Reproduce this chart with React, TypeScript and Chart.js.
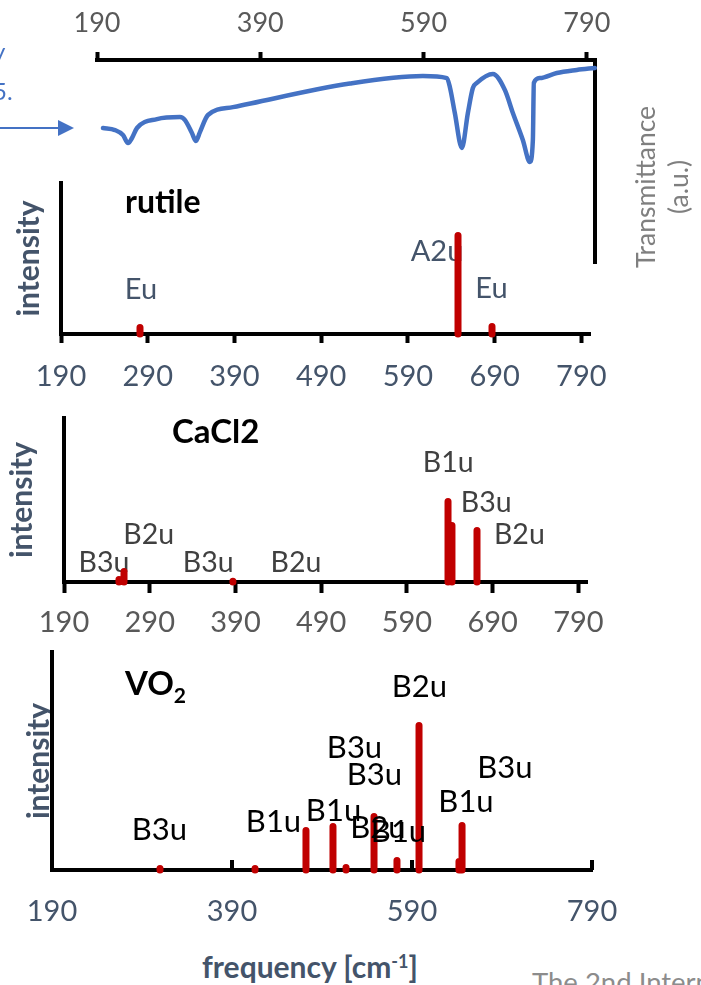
import React, { useEffect, useRef } from "react";
import { Chart, registerables } from "chart.js";

Chart.register(...registerables);

const FONT = "Lato, 'Open Sans', sans-serif";
const RED = "#C00000";
const BLUE = "#4472C4";
const SLATE = "#44546A";

// ---- axis ticks ----
const topTicks = [190, 390, 590, 790];
const panelTicks = [190, 290, 390, 490, 590, 690, 790];
const vo2Ticks = [190, 390, 590, 790];
const vo2TickMarks = [390, 590, 790];

// ---- IR transmittance trace (frequency in cm-1, transmittance in a.u.) ----
const irFreq = [
  197.3, 212.0, 221.8, 228.0, 232.9, 239.0, 263.5, 291.6, 297.8, 306.3, 311.2, 316.1,
  325.9, 356.5, 499.8, 589.2, 618.6, 622.2, 628.3, 636.9, 644.3, 650.4, 655.3, 674.9,
  689.6, 699.4, 711.6, 720.2, 723.9, 725.1, 732.4, 753.2, 777.7, 799.8,
];
const irTrans = [
  66.5, 65.5, 63.1, 59.1, 61.6, 66.5, 70.9, 71.9, 70.4, 64.0, 60.1, 64.5,
  72.9, 76.8, 88.4, 92.1, 91.1, 86.7, 73.9, 56.7, 73.9, 86.2, 88.7, 93.1,
  85.2, 73.9, 60.6, 49.8, 60.6, 88.7, 91.1, 93.6, 95.1, 96.1,
];

// ---- rutile ----
const rutileFreq = [281.1, 647.8, 687.0];
const rutileInt = [4.3, 65.2, 5.0];
const rutileModes = ["Eu", "A2u", "Eu"];
const rutileLabelFreq = [282.2, 623.6, 686.4];
const rutileLabelLevel = [29.1, 54.6, 29.8];

// ---- CaCl2-type ----
const cacl2Freq = [254.1, 260.0, 387.0, 637.9, 642.5, 671.7];
const cacl2Int = [1.5, 6.4, 0.5, 49.1, 34.5, 31.4];
const cacl2Modes = ["B3u", "B2u", "B3u", "B2u", "B1u", "B3u", "B2u"];
const cacl2LabelFreq = [236.7, 288.7, 358.3, 460.5, 638.1, 682.5, 721.1];
const cacl2LabelLevel = [11.6, 28.7, 11.6, 11.6, 72.6, 48.2, 28.7];

// ---- VO2 ----
const vo2Freq = [310.0, 415.6, 472.2, 502.2, 516.7, 547.8, 573.3, 597.8, 642.2, 645.6];
const vo2Int = [0.7, 0.7, 18.1, 20.0, 1.1, 24.5, 4.4, 66.3, 3.9, 20.4];
const vo2Modes = ["B3u", "B1u", "B1u", "B3u", "B3u", "B2u", "B1u", "B2u", "B1u", "B3u"];
const vo2LabelFreq = [309.4, 436.1, 502.8, 526.1, 548.3, 552.2, 575.0, 598.3, 650.0, 693.3];
const vo2LabelLevel = [18.3, 22.0, 27.1, 56.0, 43.6, 19.3, 17.4, 83.9, 31.4, 46.8];

// vertical sticks: each mode is a segment from 0 up to its intensity
function stickData(freqs: number[], ints: number[]) {
  const pts: { x: number; y: number | null }[] = [];
  freqs.forEach((f, i) => {
    pts.push({ x: f, y: 0 }, { x: f, y: ints[i] }, { x: f, y: null });
  });
  return pts;
}

function modeLabelPlugin(
  texts: string[],
  freqs: number[],
  levels: number[],
  size: number,
  color: string,
  over: boolean
) {
  const draw = (chart: any) => {
    const { ctx } = chart;
    const xs = chart.scales.x;
    const ys = chart.scales.y;
    ctx.save();
    ctx.font = `${size}px ${FONT}`;
    ctx.fillStyle = color;
    ctx.textAlign = "center";
    ctx.textBaseline = "middle";
    texts.forEach((t, i) => {
      ctx.fillText(t, xs.getPixelForValue(freqs[i]), ys.getPixelForValue(levels[i]));
    });
    ctx.restore();
  };
  return over
    ? { id: "modeLabels", afterDatasetsDraw: draw }
    : { id: "modeLabels", beforeDatasetsDraw: draw };
}

// short tick marks pointing up into the plot area
function innerTickPlugin(values: number[]) {
  return {
    id: "innerTicks",
    beforeDatasetsDraw(chart: any) {
      const { ctx, chartArea } = chart;
      const xs = chart.scales.x;
      ctx.save();
      ctx.strokeStyle = "#000";
      ctx.lineWidth = 4;
      values.forEach((v) => {
        const px = xs.getPixelForValue(v);
        ctx.beginPath();
        ctx.moveTo(px, chartArea.bottom);
        ctx.lineTo(px, chartArea.bottom - 10);
        ctx.stroke();
      });
      ctx.restore();
    },
  };
}

type PanelOpts = {
  freqs: number[];
  ints: number[];
  modes: string[];
  labelFreq: number[];
  labelLevel: number[];
  labelSize: number;
  labelColor: string;
  labelsOver: boolean;
  xMax: number;
  ticks: number[];
  tickColor: string;
  tickPadding: number;
  tickLength: number;
  xAxisHeight: number;
  yAxisWidth: number;
  padTop: number;
  padRight: number;
  titlePad: number;
  innerTicks?: number[];
};

function panelConfig(o: PanelOpts): any {
  const plugins: any[] = [
    modeLabelPlugin(o.modes, o.labelFreq, o.labelLevel, o.labelSize, o.labelColor, o.labelsOver),
  ];
  if (o.innerTicks) plugins.push(innerTickPlugin(o.innerTicks));
  const hasTicks = o.tickLength > 0;
  return {
    type: "line",
    data: {
      datasets: [
        {
          data: stickData(o.freqs, o.ints),
          borderColor: RED,
          borderWidth: 7,
          borderCapStyle: "round",
          borderJoinStyle: "round",
          pointRadius: 0,
          pointHoverRadius: 0,
          spanGaps: false,
          tension: 0,
          clip: false,
        },
      ],
    },
    options: {
      responsive: false,
      animation: false,
      events: [],
      devicePixelRatio: 1,
      layout: { padding: { top: o.padTop, right: o.padRight, left: 0, bottom: 0 } },
      plugins: { legend: { display: false }, tooltip: { enabled: false } },
      scales: {
        x: {
          type: "linear",
          min: 190,
          max: o.xMax,
          offset: false,
          afterBuildTicks: (a: any) => {
            a.ticks = o.ticks.map((value) => ({ value }));
          },
          afterFit: (s: any) => {
            s.height = o.xAxisHeight;
          },
          grid: {
            display: hasTicks,
            drawOnChartArea: false,
            drawTicks: hasTicks,
            tickLength: o.tickLength,
            tickWidth: 4,
            tickColor: "#000",
            offset: false,
          },
          border: { display: true, color: "#000", width: 4 },
          ticks: {
            color: o.tickColor,
            font: { family: FONT, size: 29 },
            padding: o.tickPadding,
            maxRotation: 0,
            autoSkip: false,
          },
        },
        y: {
          min: 0,
          max: 100,
          afterFit: (s: any) => {
            s.width = o.yAxisWidth;
          },
          grid: { display: false, drawTicks: false },
          border: { display: true, color: "#000", width: 4 },
          ticks: { display: false },
          title: {
            display: true,
            text: "intensity",
            color: SLATE,
            font: { family: FONT, size: 30, weight: "bold" },
            padding: { top: o.titlePad, bottom: 0 },
          },
        },
      },
    },
    plugins,
  };
}

function irConfig(): any {
  return {
    type: "line",
    data: {
      datasets: [
        {
          data: irFreq.map((x, i) => ({ x, y: irTrans[i] })),
          borderColor: BLUE,
          borderWidth: 4.5,
          borderCapStyle: "round",
          borderJoinStyle: "round",
          cubicInterpolationMode: "monotone",
          pointRadius: 0,
          pointHoverRadius: 0,
          clip: false,
        },
      ],
    },
    options: {
      responsive: false,
      animation: false,
      events: [],
      devicePixelRatio: 1,
      layout: { padding: { left: 97, right: 0, top: 0, bottom: 7 } },
      plugins: { legend: { display: false }, tooltip: { enabled: false } },
      scales: {
        x: {
          type: "linear",
          position: "top",
          min: 190,
          max: 800,
          afterBuildTicks: (a: any) => {
            a.ticks = topTicks.map((value) => ({ value }));
          },
          afterFit: (s: any) => {
            s.height = 60;
          },
          grid: {
            display: true,
            drawOnChartArea: false,
            drawTicks: true,
            tickLength: 8,
            tickWidth: 4,
            tickColor: "#000",
          },
          border: { display: true, color: "#000", width: 4 },
          ticks: {
            color: "#595959",
            font: { family: FONT, size: 27 },
            padding: 13,
            maxRotation: 0,
            autoSkip: false,
          },
        },
        y: {
          position: "right",
          min: 0,
          max: 100,
          afterFit: (s: any) => {
            s.width = 106;
          },
          grid: { display: false, drawTicks: false },
          border: { display: true, color: "#000", width: 4 },
          ticks: { display: false },
        },
      },
    },
  };
}

function ChartBox({ top, height, build }: { top: number; height: number; build: () => any }) {
  const ref = useRef<HTMLCanvasElement>(null);
  useEffect(() => {
    if (!ref.current) return;
    const chart = new Chart(ref.current, build());
    return () => chart.destroy();
  }, []);
  return (
    <canvas
      ref={ref}
      width={701}
      height={height}
      style={{ position: "absolute", left: 0, top, width: 701, height }}
    />
  );
}

const abs = (extra: React.CSSProperties): React.CSSProperties => ({
  position: "absolute",
  whiteSpace: "nowrap",
  ...extra,
});

export default function App() {
  return (
    <div
      style={{
        position: "absolute",
        left: 0,
        top: 0,
        width: 701,
        height: 985,
        overflow: "hidden",
        background: "#ffffff",
        fontFamily: FONT,
      }}
    >
      <ChartBox top={0} height={270} build={irConfig} />
      <ChartBox
        top={170}
        height={230}
        build={() =>
          panelConfig({
            freqs: rutileFreq,
            ints: rutileInt,
            modes: rutileModes,
            labelFreq: rutileLabelFreq,
            labelLevel: rutileLabelLevel,
            labelSize: 29,
            labelColor: SLATE,
            labelsOver: false,
            xMax: 800,
            ticks: panelTicks,
            tickColor: SLATE,
            tickPadding: 16.5,
            tickLength: 9,
            xAxisHeight: 66,
            yAxisWidth: 61,
            padTop: 13,
            padRight: 111,
            titlePad: 11.5,
          })
        }
      />
      <ChartBox
        top={400}
        height={260}
        build={() =>
          panelConfig({
            freqs: cacl2Freq,
            ints: cacl2Int,
            modes: cacl2Modes,
            labelFreq: cacl2LabelFreq,
            labelLevel: cacl2LabelLevel,
            labelSize: 28.5,
            labelColor: "#404040",
            labelsOver: false,
            xMax: 800,
            ticks: panelTicks,
            tickColor: "#595959",
            tickPadding: 12.5,
            tickLength: 11,
            xAxisHeight: 78,
            yAxisWidth: 64,
            padTop: 18,
            padRight: 114,
            titlePad: 4.5,
          })
        }
      />
      <ChartBox
        top={640}
        height={300}
        build={() =>
          panelConfig({
            freqs: vo2Freq,
            ints: vo2Int,
            modes: vo2Modes,
            labelFreq: vo2LabelFreq,
            labelLevel: vo2LabelLevel,
            labelSize: 31,
            labelColor: "#000000",
            labelsOver: true,
            xMax: 790,
            ticks: vo2Ticks,
            tickColor: SLATE,
            tickPadding: 24.5,
            tickLength: 0,
            xAxisHeight: 70,
            yAxisWidth: 52,
            padTop: 12,
            padRight: 109,
            titlePad: 21,
            innerTicks: vo2TickMarks,
          })
        }
      />

      {/* panel titles */}
      <div style={abs({ left: 125, top: 185, fontSize: 32, lineHeight: "32px", fontWeight: 700, color: "#000" })}>
        rutile
      </div>
      <div style={abs({ left: 172, top: 414, fontSize: 33, lineHeight: "33px", fontWeight: 700, color: "#000" })}>
        CaCl2
      </div>
      <div style={abs({ left: 125, top: 666, fontSize: 33, lineHeight: "33px", fontWeight: 700, color: "#000" })}>
        VO<sub style={{ fontSize: 21, verticalAlign: "-8px", lineHeight: 0 }}>2</sub>
      </div>

      {/* right axis title of the IR trace */}
      <div
        style={abs({
          left: 552,
          top: 154,
          width: 220,
          height: 66,
          fontSize: 26.5,
          lineHeight: "33px",
          textAlign: "center",
          color: "#7F7F7F",
          transform: "rotate(-90deg)",
          transformOrigin: "center center",
        })}
      >
        Transmittance
        <br />
        (a.u.)
      </div>

      {/* shared x axis title */}
      <div
        style={abs({
          left: 110,
          top: 951,
          width: 400,
          textAlign: "center",
          fontSize: 30,
          lineHeight: "30px",
          fontWeight: 700,
          color: SLATE,
        })}
      >
        frequency [cm<sup style={{ fontSize: 18, verticalAlign: "10px", lineHeight: 0 }}>-1</sup>]
      </div>

      {/* annotation pointing at the IR trace */}
      <div style={abs({ left: -7, top: 39, fontSize: 24, lineHeight: "24px", color: BLUE })}>y</div>
      <div style={abs({ left: -7, top: 79, fontSize: 24, lineHeight: "24px", color: BLUE })}>5.</div>
      <svg width={80} height={30} style={{ position: "absolute", left: 0, top: 113 }}>
        <line x1={0} y1={15} x2={62} y2={15} stroke={BLUE} strokeWidth={2} />
        <polygon points="58,7 74,15 58,23" fill={BLUE} />
      </svg>

      <div style={abs({ left: 532, top: 968, fontSize: 27.5, lineHeight: "27px", color: "#8C8C8C" })}>
        The 2nd International Conference
      </div>
    </div>
  );
}
